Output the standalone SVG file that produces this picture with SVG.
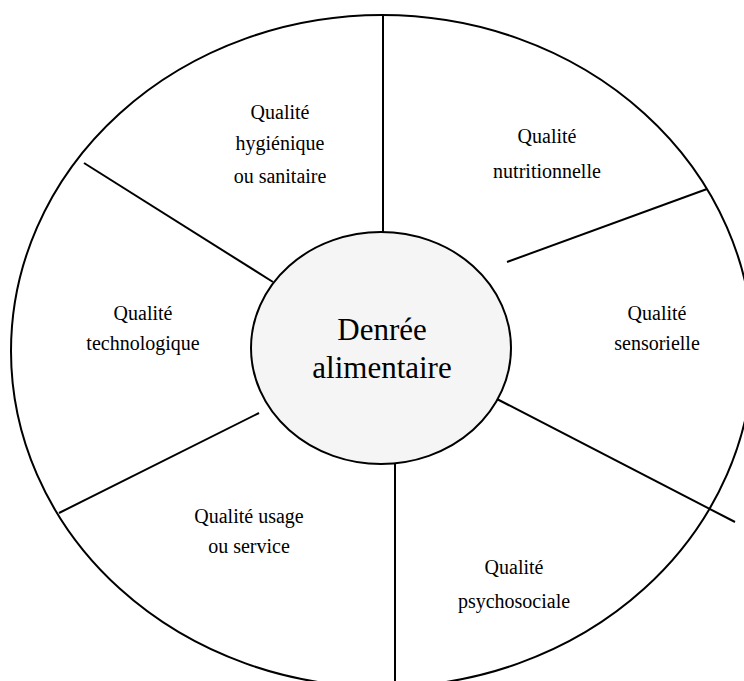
<svg xmlns="http://www.w3.org/2000/svg" width="744" height="681" viewBox="0 0 744 681">
<style>
.ln{stroke:#000;stroke-width:2;fill:none}
.t{font-family:"Liberation Serif","Times New Roman",serif;font-size:20px;fill:#000;text-anchor:middle}
.c{font-size:31px}
</style>
<rect width="744" height="681" fill="#fff"/>
<g id="outer"><ellipse class="ln" cx="382" cy="351" rx="371" ry="336"/></g>
<g id="connectors">
<line class="ln" x1="383" y1="15" x2="383" y2="232"/>
<line class="ln" x1="395" y1="463" x2="395" y2="690"/>
<line class="ln" x1="273" y1="282" x2="84" y2="163"/>
<line class="ln" x1="507" y1="262" x2="707" y2="189"/>
<line class="ln" x1="259" y1="413" x2="59" y2="513"/>
<line class="ln" x1="495" y1="398" x2="735" y2="522"/>
</g>
<g id="center"><ellipse cx="381" cy="348" rx="130" ry="116" fill="#f5f5f5" stroke="#000" stroke-width="2"/>
<text class="t c" x="382" y="340">Denrée</text><text class="t c" x="382" y="378">alimentaire</text></g>
<g id="hygienique"><text class="t" x="280" y="119">Qualité</text><text class="t" x="280" y="150">hygiénique</text><text class="t" x="280" y="183">ou sanitaire</text></g>
<g id="nutritionnelle"><text class="t" x="547" y="143">Qualité</text><text class="t" x="547" y="178">nutritionnelle</text></g>
<g id="sensorielle"><text class="t" x="657" y="320">Qualité</text><text class="t" x="657" y="350">sensorielle</text></g>
<g id="technologique"><text class="t" x="143" y="320">Qualité</text><text class="t" x="143" y="350">technologique</text></g>
<g id="usage"><text class="t" x="249" y="523">Qualité usage</text><text class="t" x="249" y="553">ou service</text></g>
<g id="psychosociale"><text class="t" x="514" y="574">Qualité</text><text class="t" x="514" y="608">psychosociale</text></g>
</svg>
